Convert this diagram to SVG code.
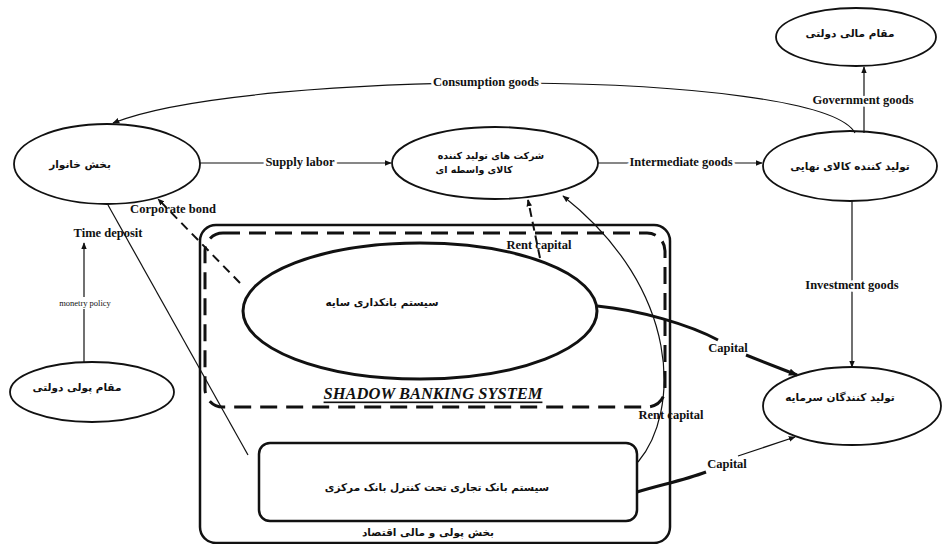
<svg xmlns="http://www.w3.org/2000/svg" width="943" height="544" viewBox="0 0 943 544">
<defs>
<marker id="ah" viewBox="0 0 10 10" refX="9" refY="5" markerWidth="7" markerHeight="7" markerUnits="userSpaceOnUse" orient="auto">
<path d="M0,1 L10,5 L0,9 z" fill="#111"/>
</marker>
<marker id="ahb" viewBox="0 0 10 10" refX="9" refY="5" markerWidth="9" markerHeight="9" markerUnits="userSpaceOnUse" orient="auto">
<path d="M0,1 L10,5 L0,9 z" fill="#111"/>
</marker>
</defs>
<style>
.n{fill:#fff;stroke:#111;stroke-width:1.8}
.fa{font-family:"DejaVu Sans",sans-serif;font-size:10.5px;font-weight:bold;fill:#111;text-anchor:middle;dominant-baseline:central}
.sm{font-size:9.5px}
.lb{font-family:"Liberation Serif",serif;font-size:12.5px;font-weight:bold;fill:#111;text-anchor:middle;dominant-baseline:central}
.halo{stroke:#fff;stroke-width:5;paint-order:stroke}
.c{fill:none;stroke:#111;stroke-width:1.2}
</style>
<rect width="943" height="544" fill="#fff"/>

<g id="financial-sector">
<rect x="200" y="225" width="470" height="318" rx="16" fill="none" stroke="#111" stroke-width="2.5"/>
<text class="fa" x="428" y="532">بخش  پولی و مالی اقتصاد</text>
</g>
<g id="shadow-banking-box">
<rect x="205" y="233" width="460" height="174" rx="18" fill="none" stroke="#111" stroke-width="3" stroke-dasharray="17 9"/>
<text x="433" y="393" font-family="Liberation Serif, serif" font-size="16.5" font-weight="bold" font-style="italic" fill="#111" text-anchor="middle" dominant-baseline="central" text-decoration="underline">SHADOW BANKING SYSTEM</text>
</g>
<g id="shadow-banking">
<ellipse cx="420" cy="311" rx="177" ry="68" fill="none" stroke="#111" stroke-width="3"/>
<text class="fa" x="382" y="302">سیستم بانکداری سایه</text>
</g>
<g id="commercial-bank">
<rect x="259" y="443" width="378" height="78" rx="11" fill="none" stroke="#111" stroke-width="2.5"/>
<text class="fa" x="437" y="487">سیستم بانک تجاری تحت کنترل بانک مرکزی</text>
</g>
<g id="household">
<ellipse class="n" cx="107" cy="164" rx="93" ry="40"/>
<text class="fa" x="80" y="164">بخش خانوار</text>
</g>
<g id="intermediate-firms">
<ellipse class="n" cx="495" cy="163" rx="103" ry="36"/>
<text class="fa sm" x="491" y="155">شرکت های تولید کننده</text>
<text class="fa sm" x="474" y="169">کالای واسطه ای</text>
</g>
<g id="final-goods">
<ellipse class="n" cx="850" cy="166" rx="87" ry="35"/>
<text class="fa" x="850" y="166">تولید کننده کالای نهایی</text>
</g>
<g id="fiscal-authority">
<ellipse class="n" cx="856" cy="37" rx="80" ry="29"/>
<text class="fa" x="850" y="33">مقام مالی دولتی</text>
</g>
<g id="monetary-authority">
<ellipse class="n" cx="92" cy="392" rx="82" ry="30"/>
<text class="fa" x="77" y="387">مقام پولی دولتی</text>
</g>
<g id="capital-producers">
<ellipse class="n" cx="852" cy="406" rx="89" ry="39"/>
<text class="fa" x="840" y="397">تولید کنندگان سرمایه</text>
</g>

<g id="connectors">
<path class="c" d="M855 133 C820 68 250 68 113 123" marker-end="url(#ah)"/>
<text class="lb halo" x="486" y="82">Consumption goods</text>
<line class="c" x1="864" y1="133" x2="864" y2="67" marker-end="url(#ah)"/>
<text class="lb halo" x="863" y="100">Government goods</text>
<line class="c" x1="200" y1="163" x2="391" y2="163" marker-end="url(#ah)"/>
<text class="lb halo" x="300" y="162">Supply labor</text>
<line class="c" x1="598" y1="163" x2="762" y2="163" marker-end="url(#ah)"/>
<text class="lb halo" x="681" y="162">Intermediate goods</text>
<line class="c" x1="852" y1="201" x2="852" y2="367" marker-end="url(#ah)"/>
<text class="lb halo" x="852" y="285">Investment goods</text>
<line class="c" x1="84" y1="362" x2="84" y2="243" marker-end="url(#ah)"/>
<rect x="44" y="297" width="82" height="12" fill="#fff"/>
<text x="85" y="303" font-family="Liberation Serif, serif" font-size="8.5" fill="#111" text-anchor="middle" dominant-baseline="central">monetry policy</text>
<text class="lb" x="108" y="233">Time deposit</text>
<line x1="240" y1="283" x2="158" y2="199" stroke="#111" stroke-width="2" stroke-dasharray="9 6" marker-end="url(#ah)"/>
<text class="lb" x="173" y="209">Corporate bond</text>
<line class="c" x1="108" y1="205" x2="248" y2="455"/>
<line x1="540" y1="258" x2="528" y2="200" stroke="#111" stroke-width="2" stroke-dasharray="9 5" marker-end="url(#ah)"/>
<text class="lb" x="539" y="245">Rent capital</text>
<path class="c" d="M638 462 C680 412 682 290 563 196" marker-end="url(#ah)"/>
<text class="lb" x="671" y="415">Rent capital</text>
<path d="M597 306 C640 310 690 325 718 340" fill="none" stroke="#111" stroke-width="3"/>
<line x1="746" y1="355" x2="797" y2="375" stroke="#111" stroke-width="3" marker-end="url(#ahb)"/>
<text class="lb" x="728" y="348">Capital</text>
<path d="M637 492 C660 485 685 480 706 472" fill="none" stroke="#111" stroke-width="3"/>
<line class="c" x1="738" y1="456" x2="795" y2="437" marker-end="url(#ah)"/>
<text class="lb" x="727" y="464">Capital</text>
</g>
</svg>
